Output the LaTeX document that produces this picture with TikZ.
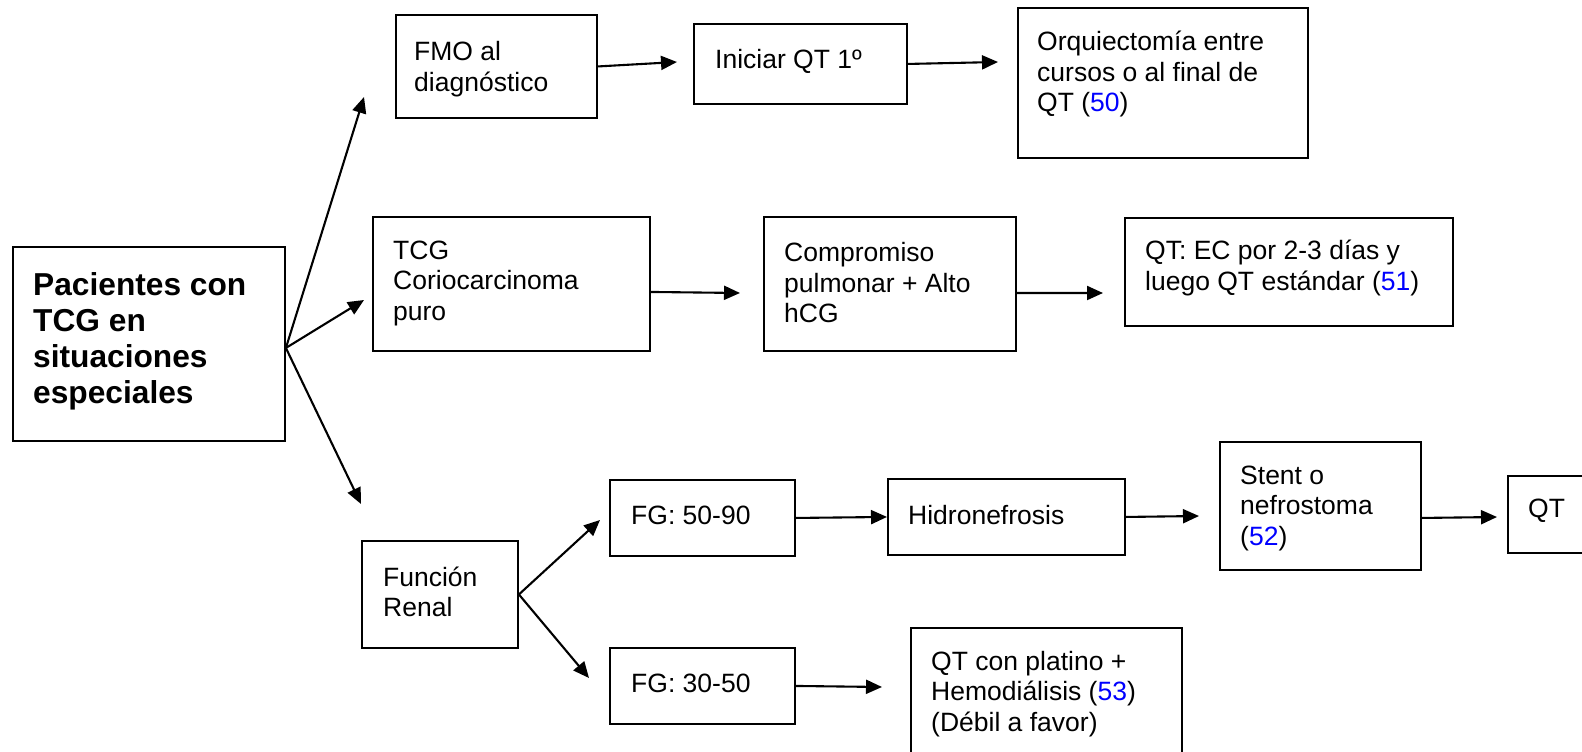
\documentclass[tikz,border=0pt]{standalone}
\usepackage{fontspec}
\setmainfont{Liberation Sans}
\usetikzlibrary{arrows.meta}
\definecolor{refblue}{RGB}{0,0,255}
\newcommand{\cita}[1]{(\textcolor{refblue}{#1})}
\begin{document}
\begin{tikzpicture}[x=1pt, y=-1pt,
  box/.style={draw, line width=1.9pt, anchor=north west, inner sep=0pt},
  txt/.style={anchor=west, align=left, inner sep=0pt,
    font=\fontsize{26.5}{30.5}\selectfont},
  bigtxt/.style={anchor=west, align=left, inner sep=0pt,
    font=\fontsize{31.7}{36}\selectfont\bfseries},
  arr/.style={line width=2.1pt, -{Triangle[length=16pt,width=14pt]}}]
\useasboundingbox (0,0) rectangle (1582,752);
\clip (0,0) rectangle (1582,752);

% boxes
\node[box, minimum width=272pt, minimum height=194pt] (pac)   at (12,246)  {};
\node[box, minimum width=201pt, minimum height=103pt] (fmo)   at (395,14)  {};
\node[box, minimum width=213pt, minimum height=80pt]  (ini)   at (693,23)  {};
\node[box, minimum width=290pt, minimum height=150pt] (orq)   at (1017,7)  {};
\node[box, minimum width=277pt, minimum height=134pt] (tcg)   at (372,216) {};
\node[box, minimum width=252pt, minimum height=134pt] (comp)  at (763,216) {};
\node[box, minimum width=328pt, minimum height=108pt] (qtec)  at (1124,217) {};
\node[box, minimum width=156pt, minimum height=107pt] (fun)   at (361,540) {};
\node[box, minimum width=185pt, minimum height=76pt]  (fg1)   at (609,479) {};
\node[box, minimum width=237pt, minimum height=76pt]  (hid)   at (887,478) {};
\node[box, minimum width=201pt, minimum height=128pt] (stent) at (1219,441) {};
\node[box, minimum width=93pt,  minimum height=77pt]  (qt)    at (1507,475) {};
\node[box, minimum width=185pt, minimum height=76pt]  (fg2)   at (609,647) {};
\node[box, minimum width=271pt, minimum height=153pt] (qtp)   at (910,627) {};

% texts
\node[bigtxt] (pac-t) at (33,341) {Pacientes con\\TCG en\\situaciones\\especiales};
\node[txt] (fmo-t)   at (414,69)   {FMO al\\diagnóstico};
\node[txt] (ini-t)   at (715,61)   {Iniciar QT 1º};
\node[txt] (orq-t)   at (1037,74)  {Orquiectomía entre\\cursos o al final de\\QT \cita{50}};
\node[txt] (tcg-t)   at (393,283)  {TCG\\Coriocarcinoma\\puro};
\node[txt] (comp-t)  at (784,283)  {Compromiso\\pulmonar + Alto\\hCG};
\node[txt] (qtec-t)  at (1145,268) {QT: EC por 2-3 días y\\luego QT estándar \cita{51}};
\node[txt] (fun-t)   at (383,592)  {Función\\Renal};
\node[txt] (fg1-t)   at (631,515)  {FG: 50-90};
\node[txt] (hid-t)   at (908,515)  {Hidronefrosis};
\node[txt] (stent-t) at (1240,508) {Stent o\\nefrostoma\\\cita{52}};
\node[txt] (qt-t)    at (1528,511) {QT};
\node[txt] (fg2-t)   at (631,683)  {FG: 30-50};
\node[txt] (qtp-t)   at (931,694)  {QT con platino +\\Hemodiálisis \cita{53}\\(Débil a favor)};

% free arrow tips
\coordinate (t-fmo)   at (364,97);
\coordinate (t-tcg)   at (364,300);
\coordinate (t-fun)   at (361,504);
\coordinate (t-ini)   at (677,62);
\coordinate (t-orq)   at (998,62);
\coordinate (t-comp)  at (740,293);
\coordinate (t-qtec)  at (1103,293);
\coordinate (t-stent) at (1199,516);
\coordinate (t-qt)    at (1497,517);
\coordinate (t-fg1)   at (600,520);
\coordinate (t-fg2)   at (589,678);
\coordinate (t-qtp)   at (882,687);

% connectors
\draw[arr] ([yshift=-4pt]pac.east) -- (t-fmo);
\draw[arr] ([yshift=-4pt]pac.east) -- (t-tcg);
\draw[arr] ([yshift=-4pt]pac.east) -- (t-fun);
\draw[arr] (fmo.east) -- (t-ini);
\draw[arr] (ini.east) -- (t-orq);
\draw[arr] ([yshift=-8pt]tcg.east) -- (t-comp);
\draw[arr] ([yshift=-9pt]comp.east) -- (t-qtec);
\draw[arr] (fun.east) -- (t-fg1);
\draw[arr] (fun.east) -- (t-fg2);
\draw[arr] (fg1.east) -- (hid.west);
\draw[arr] (hid.east) -- (t-stent);
\draw[arr] ([yshift=-12pt]stent.east) -- (t-qt);
\draw[arr] (fg2.east) -- (t-qtp);
\end{tikzpicture}
\end{document}
